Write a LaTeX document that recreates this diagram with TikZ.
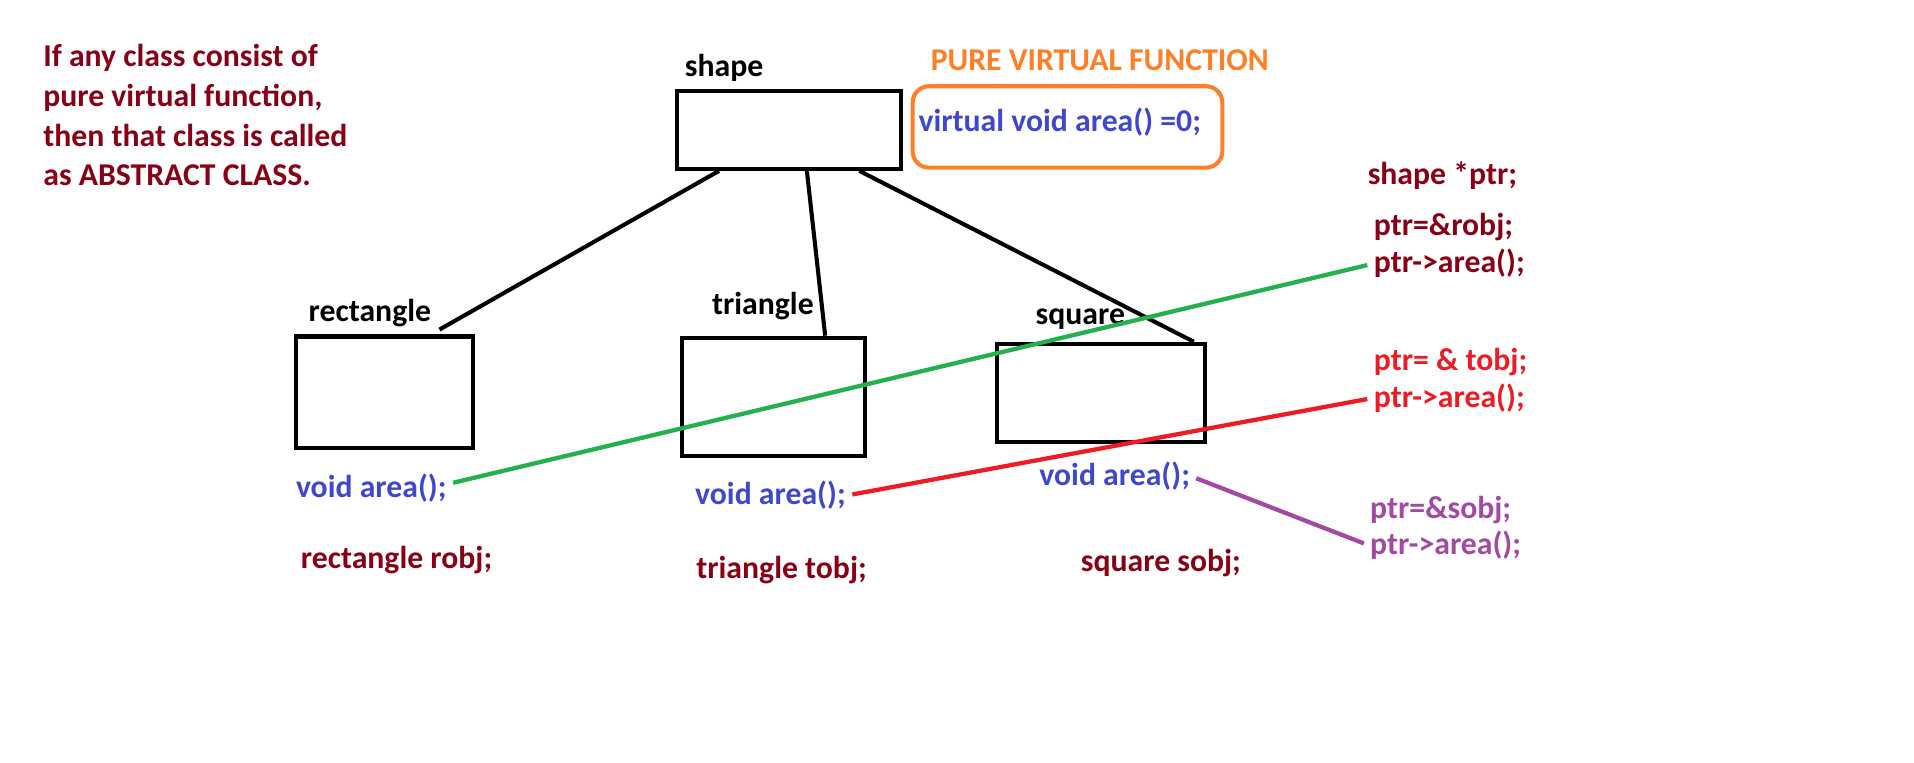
\documentclass[tikz,border=0pt]{standalone}
\usepackage{fontspec}
\setmainfont{Carlito}
\usepackage{tikz}
\usepackage{xcolor}
\usetikzlibrary{positioning}

\definecolor{darkred}{RGB}{136,0,21}
\definecolor{codeblue}{RGB}{63,72,204}
\definecolor{pvorange}{RGB}{255,127,39}
\definecolor{pgreen}{RGB}{34,177,76}
\definecolor{pred}{RGB}{237,28,36}
\definecolor{ppurple}{RGB}{163,73,164}

\begin{document}
\begin{tikzpicture}[x=0.6pt,y=-0.6pt,semithick,
                    every node/.style={font=\fontsize{15.6}{19.5}\selectfont\bfseries}]
  \tikzstyle{classbox}=[draw,rectangle,line width=2pt,inner sep=0pt]
  \tikzstyle{txt}=[anchor=west,inner sep=0pt]
  \tikzstyle{link}=[line width=2pt]
  \tikzstyle{call}=[line width=2.1pt,shorten <=3pt,shorten >=3pt]

  \useasboundingbox (0,0) rectangle (1568,625);

  \node[txt, align=left, text=darkred] (note) at (35,94.5)
       {If any class consist of\\pure virtual function,\\then that class is called\\as ABSTRACT CLASS.};

  % classes
  \node[classbox, minimum width=110.2pt, minimum height=38.2pt,
        label={[xshift=-32pt]above:shape}]                     (shape) at (646.5,106.5) {};
  \node[classbox, minimum width=86.8pt, minimum height=55pt,
        label={[xshift=-7.2pt]above:rectangle}]                (rect)  at (315,321.5) {};
  \node[classbox, minimum width=89.8pt, minimum height=58pt,
        label={[xshift=-5.1pt,yshift=4pt]above:triangle}]      (tri)   at (633.5,325) {};
  \node[classbox, minimum width=102.4pt, minimum height=48.4pt,
        label={[xshift=-10.2pt,yshift=2.4pt]above:square}]     (sq)    at (902,322) {};

  % pure virtual function
  \node[txt, text=pvorange] (pvtitle) at (762,49) {PURE VIRTUAL FUNCTION};
  \node[draw=pvorange, line width=2pt, rounded corners=8pt, minimum width=152.2pt,
        minimum height=40pt] (pvbox) at (874.5,104) {};
  \node[txt, text=codeblue] (pvf) at (752,100) {virtual void area() =0;};

  % overriding functions and objects
  \node[txt, text=codeblue] (rva) at (242,400) {void area();};
  \node[txt, text=codeblue] (tva) at (569,406) {void area();};
  \node[txt, text=codeblue] (sva) at (851,390) {void area();};
  \node[txt, text=darkred] (robj) at (246,459) {rectangle robj;};
  \node[txt, text=darkred] (tobj) at (570,467) {triangle tobj;};
  \node[txt, text=darkred] (sobj) at (885,461) {square sobj;};

  % base pointer calls
  \node[txt, text=darkred] (ptr)   at (1120,144) {shape *ptr;};
  \node[txt, text=darkred] (rset)  at (1125,186) {ptr=\&robj;};
  \node[txt, text=darkred] (rcall) at (1125,216) {ptr->area();};
  \node[txt, text=pred]    (tset)  at (1125,297) {ptr= \& tobj;};
  \node[txt, text=pred]    (tcall) at (1125,326) {ptr->area();};
  \node[txt, text=ppurple] (sset)  at (1122,418) {ptr=\&sobj;};
  \node[txt, text=ppurple] (scall) at (1122,447) {ptr->area();};

  \path ([xshift=-34.5pt]shape.south) edge[link] ([xshift=27pt,yshift=2.4pt]rect.north)
        ([xshift=8.7pt]shape.south)   edge[link] ([xshift=25.5pt]tri.north)
        ([xshift=34.5pt]shape.south)  edge[link] ([xshift=45.6pt]sq.north);

  \path ([yshift=2pt]rva.east) edge[call, pgreen]  (rcall.west)
        (tva.east)             edge[call, pred]    (tcall.west)
        (sva.east)             edge[call, ppurple] (scall.west);
\end{tikzpicture}
\end{document}
